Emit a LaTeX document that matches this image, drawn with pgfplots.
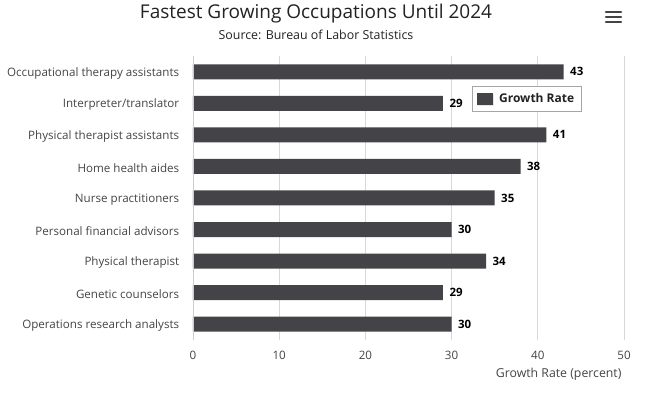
\documentclass[border=0pt]{standalone}
\usepackage{fontspec}
\setmainfont{Open Sans}
\usepackage{pgfplots}
\pgfplotsset{compat=1.18}
\usetikzlibrary{shadows}
\definecolor{barc}{HTML}{434348}
\definecolor{gridc}{HTML}{D8D8D8}
\definecolor{axisc}{HTML}{C0D0E0}
\definecolor{txt}{HTML}{222222}
\definecolor{lab}{HTML}{444444}
\begin{document}
\begin{tikzpicture}[x=1pt,y=1pt]
\useasboundingbox (0,0) rectangle (648,395);
\begin{axis}[
  at={(193pt,55pt)}, anchor=south west,
  scale only axis, width=431pt, height=284pt,
  xbar, bar width=15pt,
  xmin=0, xmax=50, ymin=-0.5, ymax=8.5, y dir=reverse,
  /pgf/number format/assume math mode=true,
  axis line style={draw=none},
  xtick={0,10,...,50},
  xmajorgrids, grid style={draw=gridc, line width=0.8pt},
  xtick style={draw=none},
  ytick={0,...,8},
  ytick style={draw=none},
  yticklabels={Occupational therapy assistants, Interpreter/translator, Physical therapist assistants, Home health aides, Nurse practitioners, Personal financial advisors, Physical therapist, Genetic counselors, Operations research analysts},
  extra y ticks={-0.5,0.5,...,8.5},
  extra y tick labels={},
  extra y tick style={major tick length=10pt, tick align=outside, ytick pos=left, major tick style={draw=axisc, line width=0.8pt}},
  ticklabel style={font=\fontsize{11.6}{13}\selectfont, text=lab},
  yticklabel style={xshift=-6pt, yshift=-1.5pt},
  xticklabel style={yshift=-8pt},
  nodes near coords,
  nodes near coords style={font=\bfseries\fontsize{11.5}{13}\selectfont, text=black, anchor=west, xshift=3pt},
  legend style={at={(0.647,0.894)}, anchor=north west, draw=gray!70, fill=white, line width=0.6pt,
    font=\bfseries\fontsize{12}{14}\selectfont, text=txt, inner xsep=5pt, inner ysep=5pt,
    drop shadow={shadow xshift=1pt, shadow yshift=-1pt, fill=gray!40}},
  legend image code/.code={\fill[barc] (0pt,-6pt) rectangle (16pt,6pt);},
]
\addplot[fill=barc, draw=none] coordinates {
(43,0) (29,1) (41,2) (38,3) (35,4) (30,5) (34,6) (29,7) (30,8)
};
\addlegendentry{\hspace{4pt}Growth Rate}
\draw[axisc, line width=0.8pt] (rel axis cs:0,0) -- (rel axis cs:0,1);
\end{axis}
\node[font=\fontsize{19}{22}\selectfont, text=txt] at (316,381) {Fastest Growing Occupations Until 2024};
\node[font=\fontsize{12.4}{14}\selectfont, text=txt] at (316,360) {Source: Bureau of Labor Statistics};
\node[anchor=east, font=\fontsize{12.3}{14}\selectfont, text=lab] at (625,21) {Growth Rate (percent)};
\foreach \yy in {373,378,383} \draw[line width=2.6pt, lab, line cap=round] (606,\yy) -- (621,\yy);
\end{tikzpicture}
\end{document}
